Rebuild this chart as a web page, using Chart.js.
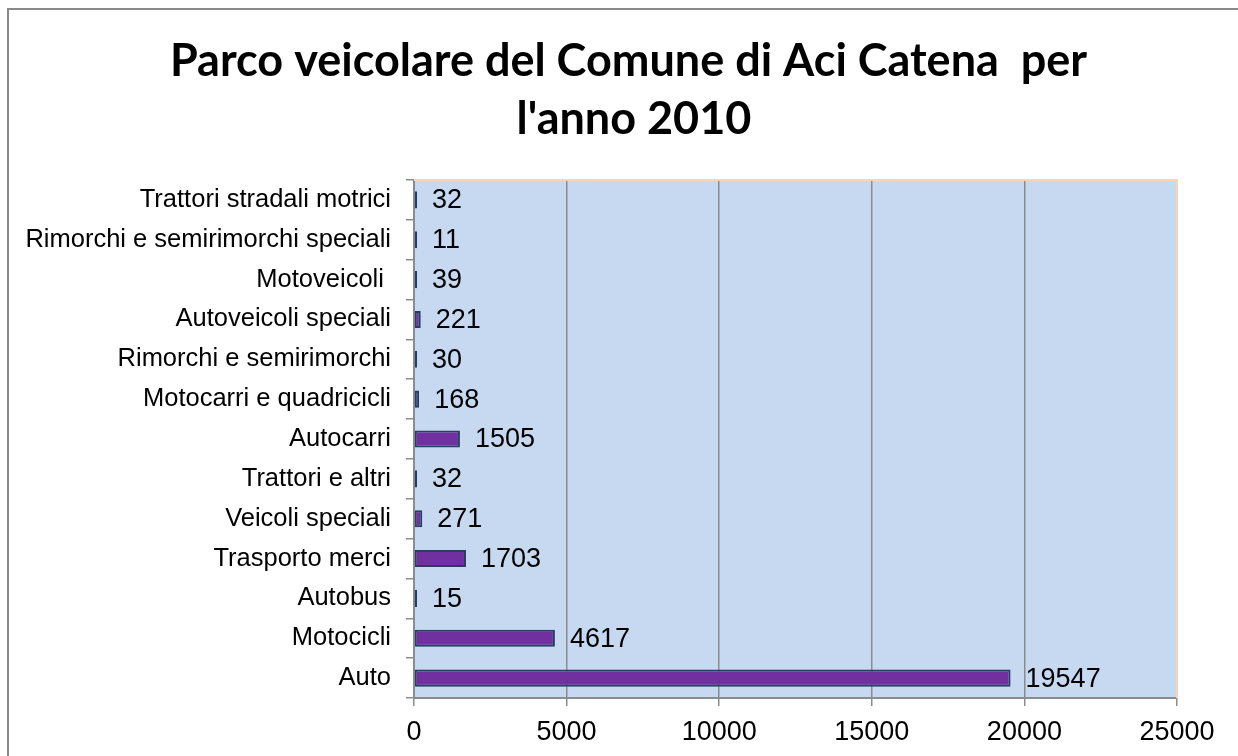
<!DOCTYPE html>
<html>
<head>
<meta charset="utf-8">
<title>Parco veicolare del Comune di Aci Catena</title>
<script src="https://cdn.jsdelivr.net/npm/chart.js@4/dist/chart.umd.min.js"></script>
<style>
  html, body { margin: 0; padding: 0; background: #ffffff; }
  canvas { display: block; }
</style>
</head>
<body>
<canvas id="chart" width="1238" height="756"></canvas>
<script>
// Vehicle categories, listed from the top row to the bottom row
const categories = [
  'Trattori stradali motrici',
  'Rimorchi e semirimorchi speciali',
  'Motoveicoli ',
  'Autoveicoli speciali',
  'Rimorchi e semirimorchi',
  'Motocarri e quadricicli',
  'Autocarri',
  'Trattori e altri',
  'Veicoli speciali',
  'Trasporto merci',
  'Autobus',
  'Motocicli',
  'Auto'
];

// Number of registered vehicles per category (year 2010)
const vehicles2010 = [32, 11, 39, 221, 30, 168, 1505, 32, 271, 1703, 15, 4617, 19547];

// Value axis range and tick step
const axisMin = 0;
const axisMax = 25000;
const axisStep = 5000;

const titleLines = ["Parco veicolare del Comune di Aci Catena  per ", "l'anno 2010"];

const LABEL_FONT = 'Liberation Sans';

// Outer frame, plot background, the thin peach edge on top/right and the title
const framePlugin = {
  id: 'frame',
  beforeDraw(chart) {
    const ctx = chart.ctx;
    const a = chart.chartArea;
    ctx.save();
    ctx.fillStyle = '#ffffff';
    ctx.fillRect(0, 0, chart.width, chart.height);
    ctx.strokeStyle = '#8a8a8a';
    ctx.lineWidth = 2;
    ctx.strokeRect(8, 9, chart.width + 20, chart.height + 20);
    ctx.fillStyle = '#c6d9f1';
    ctx.fillRect(a.left, a.top, a.right - a.left, a.bottom - a.top);

    ctx.fillStyle = '#000000';
    ctx.font = 'bold 45px Lato';
    ctx.textAlign = 'center';
    ctx.textBaseline = 'alphabetic';
    titleLines.forEach((line, i) => {
      ctx.fillText(line, 634, 76 + i * 58);
    });
    ctx.restore();
  },
  beforeDatasetsDraw(chart) {
    const ctx = chart.ctx;
    const a = chart.chartArea;
    ctx.save();
    ctx.strokeStyle = '#fbd4b4';
    ctx.lineWidth = 2;
    ctx.beginPath();
    ctx.moveTo(a.left, a.top);
    ctx.lineTo(a.right, a.top);
    ctx.lineTo(a.right, a.bottom);
    ctx.stroke();
    ctx.restore();
  }
};

// Value labels to the right of each bar
const valueLabels = {
  id: 'valueLabels',
  afterDatasetsDraw(chart) {
    const ctx = chart.ctx;
    const meta = chart.getDatasetMeta(0);
    const data = chart.data.datasets[0].data;
    ctx.save();
    ctx.font = '27px "' + LABEL_FONT + '"';
    ctx.fillStyle = '#000000';
    ctx.textAlign = 'left';
    ctx.textBaseline = 'middle';
    meta.data.forEach((bar, i) => {
      ctx.fillText(String(data[i]), bar.x + 15, bar.y + 1);
    });
    ctx.restore();
  }
};

new Chart(document.getElementById('chart'), {
  type: 'bar',
  data: {
    labels: categories,
    datasets: [{
      data: vehicles2010,
      backgroundColor: '#7030a0',
      borderColor: '#243f60',
      borderWidth: 2,
      borderSkipped: false,
      minBarLength: 3,
      categoryPercentage: 1,
      barPercentage: 0.43
    }]
  },
  options: {
    indexAxis: 'y',
    responsive: false,
    animation: false,
    devicePixelRatio: 1,
    layout: { padding: { left: 14, right: 61, top: 180, bottom: 0 } },
    plugins: {
      legend: { display: false },
      tooltip: { enabled: false },
      title: { display: false }
    },
    scales: {
      x: {
        type: 'linear',
        min: axisMin,
        max: axisMax,
        afterFit(scale) { scale.height = 58; },
        ticks: {
          stepSize: axisStep,
          color: '#000000',
          padding: 10,
          maxRotation: 0,
          font: { family: LABEL_FONT, size: 27 },
          callback: value => String(value)
        },
        grid: {
          color: ctx => (ctx.tick && ctx.tick.value === axisMax) ? '#fbd4b4' : '#8c8c8c',
          tickColor: '#8c8c8c',
          lineWidth: 1.5,
          tickLength: 8
        },
        border: { display: true, color: '#8c8c8c', width: 2 }
      },
      y: {
        afterFit(scale) { scale.width = 400; },
        ticks: {
          color: '#000000',
          padding: 15,
          font: { family: LABEL_FONT, size: 25.5 }
        },
        grid: {
          drawOnChartArea: false,
          drawTicks: true,
          tickLength: 8,
          color: '#8c8c8c',
          lineWidth: 1.5
        },
        border: { display: true, color: '#8c8c8c', width: 2 }
      }
    }
  },
  plugins: [framePlugin, valueLabels]
});
</script>
</body>
</html>
